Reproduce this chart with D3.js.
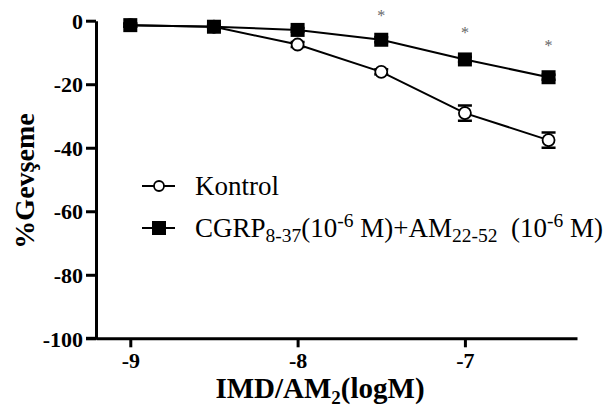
<!DOCTYPE html>
<html>
<head>
<meta charset="utf-8">
<script src="https://cdn.jsdelivr.net/npm/d3@7"></script>
<style>
  html, body { margin: 0; padding: 0; background: #fff; }
  svg { display: block; font-family: "Liberation Serif", "Times New Roman", serif; }
  svg text { font-family: "Liberation Serif", "Times New Roman", serif; }
</style>
</head>
<body>
<svg id="chart" width="611" height="410"></svg>
<script>
// ---- data ----
const doses = [-9, -8.5, -8, -7.5, -7, -6.5];
const kontrolMean = [-1.4, -1.9, -7.5, -16.1, -29.1, -37.6];
const kontrolErr  = [0.5, 0.5, 0.8, 0.8, 2.4, 2.4];
const cgrpMean = [-1.4, -1.9, -2.9, -6.0, -12.2, -17.8];
const cgrpErr  = [0.5, 0.5, 0.6, 0.8, 0.8, 0.8];
const starDoses = [-7.5, -7, -6.5];
const starY = [2.65, -2.7, -6.8];
const xTicks = [-9, -8, -7];
const yTicks = [0, -20, -40, -60, -80, -100];

const svg = d3.select("#chart");
const x = d3.scaleLinear().domain([-9.205, -6.33]).range([96, 577]);
const y = d3.scaleLinear().domain([0, -100]).range([20.7, 338.3]);

// axes
const xAxis = d3.axisBottom(x).tickValues(xTicks).tickSize(9).tickSizeOuter(0).tickFormat(d => String(d));
const yAxis = d3.axisLeft(y).tickValues(yTicks).tickSize(10).tickSizeOuter(0).tickFormat(d => String(d));

const gx = svg.append("g").attr("transform", "translate(0,338.3)").call(xAxis);
const gy = svg.append("g").attr("transform", "translate(96,0)").call(yAxis);
[gx, gy].forEach(g => {
  g.attr("font-family", null);
  g.select(".domain").attr("stroke", "#000").attr("stroke-width", 3);
  g.selectAll(".tick line").attr("stroke", "#000").attr("stroke-width", 3);
  g.selectAll(".tick text").attr("fill", "#000")
    .attr("font-weight", "bold").attr("font-size", 22);
});
// extend x-axis left to meet the -100 tick
svg.append("line").attr("x1", 86).attr("x2", 97).attr("y1", 338.3).attr("y2", 338.3)
  .attr("stroke", "#000").attr("stroke-width", 3);
gx.selectAll(".tick text").attr("dy", 0).attr("y", 30);
gy.selectAll(".tick text").attr("x", -13).attr("dy", "0.35em");

// lines
const line = d3.line().x((d, i) => x(doses[i])).y(d => y(d));
svg.append("path").datum(kontrolMean).attr("d", line).attr("fill", "none").attr("stroke", "#000").attr("stroke-width", 2);
svg.append("path").datum(cgrpMean).attr("d", line).attr("fill", "none").attr("stroke", "#000").attr("stroke-width", 2);

// error bars
function errBars(mean, err) {
  const g = svg.append("g").attr("stroke", "#000").attr("stroke-width", 2.5);
  mean.forEach((m, i) => {
    const cx = x(doses[i]);
    g.append("line").attr("x1", cx).attr("x2", cx).attr("y1", y(m - err[i])).attr("y2", y(m + err[i]));
    g.append("line").attr("x1", cx - 7).attr("x2", cx + 7).attr("y1", y(m - err[i])).attr("y2", y(m - err[i]));
    g.append("line").attr("x1", cx - 7).attr("x2", cx + 7).attr("y1", y(m + err[i])).attr("y2", y(m + err[i]));
  });
}
errBars(kontrolMean, kontrolErr);
errBars(cgrpMean, cgrpErr);

// markers
svg.append("g").selectAll("circle").data(kontrolMean).join("circle")
  .attr("cx", (d, i) => x(doses[i])).attr("cy", d => y(d)).attr("r", 6)
  .attr("fill", "#fff").attr("stroke", "#000").attr("stroke-width", 1.8);
svg.append("g").selectAll("rect").data(cgrpMean).join("rect")
  .attr("x", (d, i) => x(doses[i]) - 7).attr("y", d => y(d) - 7).attr("width", 14).attr("height", 14)
  .attr("fill", "#000");

// significance stars
svg.append("g").selectAll("text").data(starY).join("text")
  .attr("x", (d, i) => x(starDoses[i])).attr("y", d => y(d)).attr("dy", 8.5)
  .attr("text-anchor", "middle").attr("font-size", 16).attr("fill", "#666").text("*");

// legend
const lg = svg.append("g");
lg.append("line").attr("x1", 142).attr("x2", 175).attr("y1", 186).attr("y2", 186).attr("stroke", "#000").attr("stroke-width", 2);
lg.append("circle").attr("cx", 159).attr("cy", 186).attr("r", 5).attr("fill", "#fff").attr("stroke", "#000").attr("stroke-width", 1.8);
lg.append("text").attr("x", 195).attr("y", 195).attr("font-size", 27).text("Kontrol");
lg.append("line").attr("x1", 142).attr("x2", 175).attr("y1", 228).attr("y2", 228).attr("stroke", "#000").attr("stroke-width", 2);
lg.append("rect").attr("x", 152).attr("y", 221).attr("width", 14).attr("height", 14).attr("fill", "#000");
const t2 = lg.append("text").attr("x", 195).attr("y", 237).attr("font-size", 27);
t2.append("tspan").text("CGRP");
t2.append("tspan").attr("font-size", 19.5).attr("dy", 5).text("8-37");
t2.append("tspan").attr("dy", -5).text("(10");
t2.append("tspan").attr("font-size", 19.5).attr("dy", -10).text("-6");
t2.append("tspan").attr("dy", 10).text(" M)+AM");
t2.append("tspan").attr("font-size", 19.5).attr("dy", 5).text("22-52");
t2.append("tspan").attr("dy", -5).text("\u00a0 (10");
t2.append("tspan").attr("font-size", 19.5).attr("dy", -10).text("-6");
t2.append("tspan").attr("dy", 10).text(" M)");

// axis titles
const xt = svg.append("text").attr("x", 320).attr("y", 398).attr("text-anchor", "middle")
  .attr("font-weight", "bold").attr("font-size", 29);
xt.append("tspan").text("IMD/AM");
xt.append("tspan").attr("font-size", 19).attr("dy", 6).text("2");
xt.append("tspan").attr("dy", -6).text("(logM)");

svg.append("text").attr("transform", "translate(34,181) rotate(-90)").attr("text-anchor", "middle")
  .attr("font-weight", "bold").attr("font-size", 28).text("%Gevşeme");
</script>
</body>
</html>
